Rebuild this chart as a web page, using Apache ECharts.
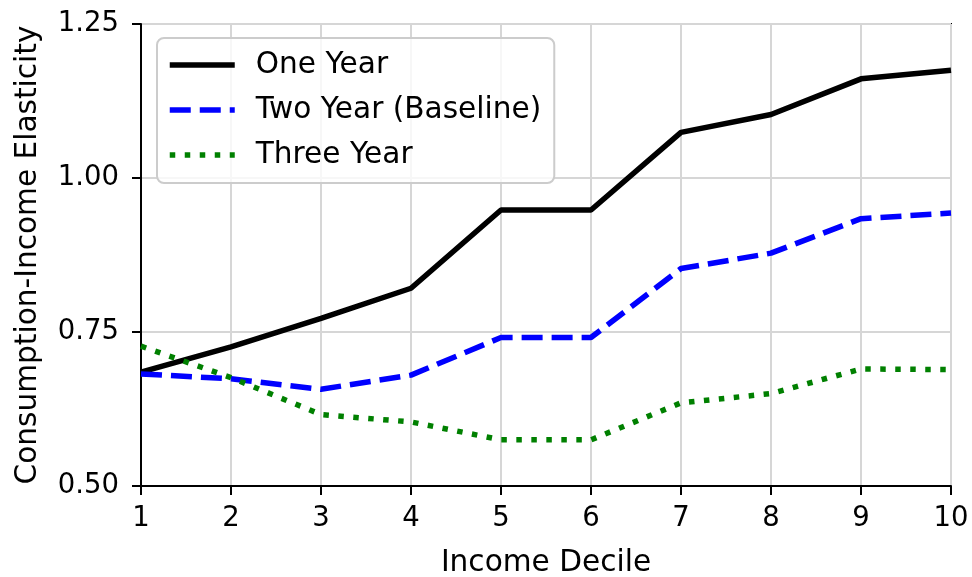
<!DOCTYPE html>
<html>
<head>
<meta charset="utf-8">
<script src="https://cdn.jsdelivr.net/npm/echarts@6/dist/echarts.min.js"></script>
<style>
html, body { margin: 0; padding: 0; background: #fff; }
#chart { width: 972px; height: 577px; }
</style>
</head>
<body>
<div id="chart"></div>
<script>
// income deciles and elasticities
var deciles = [1, 2, 3, 4, 5, 6, 7, 8, 9, 10];
var oneYear = [0.685, 0.726, 0.772, 0.821, 0.948, 0.948, 1.074, 1.103, 1.161, 1.175];
var twoYear = [0.682, 0.674, 0.657, 0.680, 0.741, 0.741, 0.853, 0.878, 0.934, 0.943];
var threeYear = [0.727, 0.676, 0.616, 0.604, 0.575, 0.575, 0.635, 0.650, 0.690, 0.689];
var yTicks = [0.50, 0.75, 1.00, 1.25];

var font = 'DejaVu Sans';
var fsTick = 27.5;
var fsText = 29.6;

function pairs(ys) {
	var out = [];
	for (var i = 0; i < deciles.length; i++) out.push([deciles[i], ys[i]]);
	return out;
}

function line(name, ys, color, type) {
	return {
		name : name,
		type : 'line',
		data : pairs(ys),
		symbol : 'none',
		showSymbol : false,
		animation : false,
		lineStyle : {color : color, width : 5.5, type : type, cap : 'butt'},
		itemStyle : {color : color}
	};
}

var chart = echarts.init(document.getElementById('chart'), null, {renderer : 'canvas'});
chart.setOption({
	animation : false,
	backgroundColor : '#fff',
	grid : {
		left : 141, right : 21, top : 24, bottom : 91,
		outerBoundsMode : 'none', containLabel : false,
		show : true, borderColor : '#000', borderWidth : 2, backgroundColor : 'transparent'
	},
	legend : {
		orient : 'vertical',
		left : 157, top : 38,
		padding : [12, 13, 13, 10],
		itemWidth : 65, itemHeight : 30, itemGap : 15,
		backgroundColor : 'rgba(255,255,255,0.8)',
		borderColor : '#cccccc', borderWidth : 2, borderRadius : 7,
		itemStyle : {opacity : 0},
		lineStyle : {width : 5.5},
		textStyle : {fontFamily : font, fontSize : fsText, color : '#000', padding : [0, 0, 0, 16]},
		data : ['One Year', 'Two Year (Baseline)', 'Three Year']
	},
	xAxis : {
		type : 'value', min : 1, max : 10, interval : 1,
		name : 'Income Decile', nameLocation : 'middle', nameGap : 62,
		nameTextStyle : {fontFamily : font, fontSize : fsText, color : '#000'},
		axisLine : {show : true, lineStyle : {color : '#000', width : 2}},
		axisTick : {show : true, length : 9, lineStyle : {color : '#000', width : 2}},
		axisLabel : {fontFamily : font, fontSize : fsTick, color : '#000', margin : 19},
		splitLine : {show : true, lineStyle : {color : '#d6d6d6', width : 2}}
	},
	yAxis : {
		type : 'value', min : yTicks[0], max : yTicks[yTicks.length - 1], interval : 0.25,
		name : 'Consumption-Income Elasticity', nameLocation : 'middle', nameGap : 98,
		nameTextStyle : {fontFamily : font, fontSize : fsText, color : '#000'},
		axisLine : {show : true, lineStyle : {color : '#000', width : 2}},
		axisTick : {show : true, length : 9, lineStyle : {color : '#000', width : 2}},
		axisLabel : {
			fontFamily : font, fontSize : fsTick, color : '#000', margin : 22,
			formatter : function(v) { return v.toFixed(2); }
		},
		splitLine : {show : true, lineStyle : {color : '#d6d6d6', width : 2}}
	},
	series : [
		line('One Year', oneYear, '#000000', 'solid'),
		line('Two Year (Baseline)', twoYear, '#0000ff', [21, 9]),
		line('Three Year', threeYear, '#008000', [5.5, 9.5])
	]
});
</script>
</body>
</html>
